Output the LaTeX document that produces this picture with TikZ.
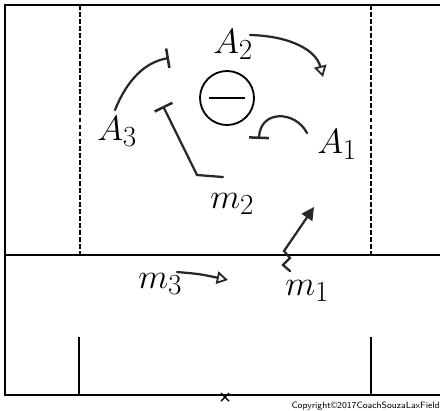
\documentclass[tikz,border=0pt]{standalone}
\usepackage{amsmath}
\usepackage{xcolor}
\usepackage{tikz}
\usetikzlibrary{arrows.meta}
\definecolor{fieldline}{RGB}{0,0,0}
\definecolor{pencil}{RGB}{40,40,40}

\begin{document}
\begin{tikzpicture}[x=0.025cm,y=-0.025cm,
  line/.style={draw=fieldline, line width=1.3pt},
  dashline/.style={draw=fieldline, line width=2pt, dash pattern=on 3.5pt off 1.5pt},
  move/.style={draw=pencil, line width=1.6pt, line cap=round},
  cut/.style={move, -{Bar[width=14pt,line width=1.8pt]}},
  pass/.style={move, -{Triangle[open,length=8pt,width=9pt,line width=1.3pt]}},
  player/.style={font=\fontsize{24.88}{28}\selectfont, inner sep=0pt, anchor=base west}]
  \useasboundingbox (0,0) rectangle (440,410);
  % field lines
  \draw[line] (441,5) -- (5,5) -- (5,395) -- (441,395);
  \draw[line] (5,255) -- (441,255);
  \draw[dashline] (80,5) -- (80,255);
  \draw[dashline] (371,5) -- (371,255);
  \draw[line] (79,337) -- (79,395);
  \draw[line] (371,337) -- (371,395);
  \draw[line, line width=1pt] (221,393) -- (229,401) (229,393) -- (221,401);
  % goal
  \node[draw=fieldline, circle, line width=1.3pt, minimum size=1.35cm, inner sep=0pt] (goal) at (227,98) {};
  \draw[line] ([xshift=-0.45cm]goal.center) -- ([xshift=0.45cm]goal.center);
  % players
  \node[player] (a2) at (213,53) {$A_2$};
  \node[player] (a3) at (97,140) {$A_3$};
  \node[player] (a1) at (317,153) {$A_1$};
  \node[player] (m2) at (210,208) {$m_2$};
  \node[player] (m3) at (138,288) {$m_3$};
  \node[player] (m1) at (285,295) {$m_1$};
  % movement
  \draw[cut] (115,110) .. controls (127,80) and (145,62) .. (169,58);
  \draw[pass] (250,35) .. controls (290,36) and (316,50) .. (323,77);
  \draw[cut] (307,133) .. controls (295,110) and (260,110) .. (259,139);
  \draw[cut] (223,177) -- (197,175) -- (163,106);
  \draw[move, -{Triangle[length=9pt,width=9pt]}] (290,271) -- (283,265) -- (290,258) -- (284,251) .. controls (295,235) .. (314,207);
  \draw[pass] (177,272) .. controls (200,274) .. (228,280);
  % copyright
  \node[font=\sffamily\fontsize{6.5}{7}\selectfont, anchor=base east, inner sep=0pt] (copy) at (440,408) {Copyright©2017CoachSouzaLaxField};
\end{tikzpicture}
\end{document}
